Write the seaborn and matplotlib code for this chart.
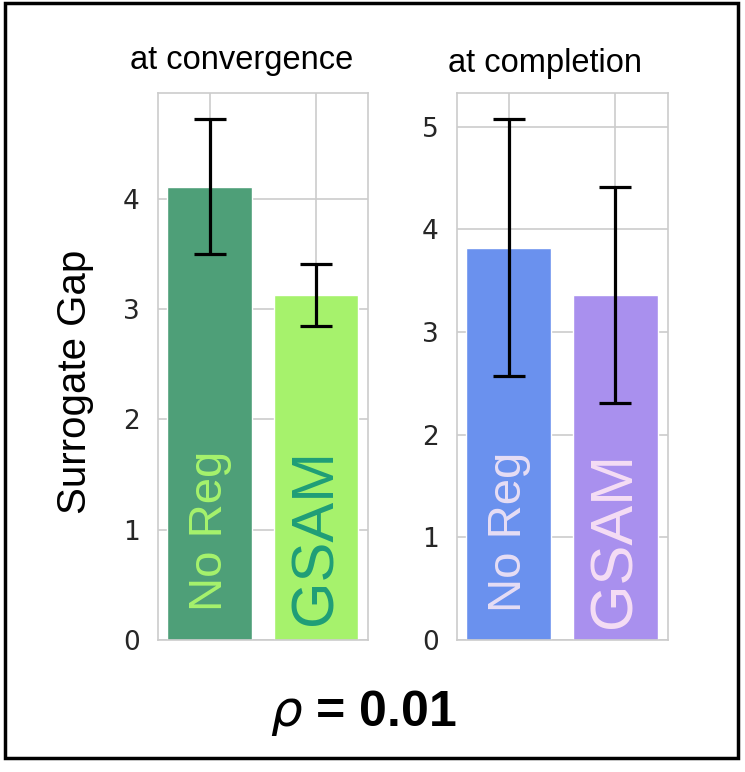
import matplotlib
matplotlib.use("Agg")
import matplotlib.pyplot as plt
import seaborn as sns
from matplotlib.patches import Rectangle

methods = ["No Reg", "GSAM"]

conv_means = [4.11, 3.13]
conv_errs = [0.61, 0.28]
comp_means = [3.82, 3.36]
comp_errs = [1.25, 1.05]

conv_colors = ["#4E9F78", "#A6F26C"]
conv_text_colors = ["#A6F26C", "#1F9E78"]
comp_colors = ["#6A91EE", "#A990EE"]
comp_text_colors = ["#E6DDF5", "#F5DDF5"]

titles = ["at convergence", "at completion"]


def draw_panel(ax, means, errs, colors, text_colors, title, label_y, label_sizes,
               title_xy):
    sns.barplot(x=methods, y=means, hue=methods, palette=colors, legend=False,
                errorbar=None, saturation=1, width=0.8, ax=ax)
    ax.errorbar(range(len(methods)), means, yerr=errs, fmt="none",
                ecolor="black", elinewidth=2.3, capsize=11.5, capthick=2.3)
    ax.set_xticks(range(len(methods)))
    ax.set_xticklabels(["", ""])
    ax.tick_params(axis="x", length=0)
    for sp in ax.spines.values():
        sp.set_color("#cccccc")
        sp.set_linewidth(1.2)
    ax.grid(True, color="#cccccc", linewidth=1.2)
    for i, name in enumerate(methods):
        ax.text(i, label_y[i], name, rotation=90, ha="center", va="bottom",
                color=text_colors[i], fontsize=label_sizes[i],
                family="Liberation Sans")
    ax.text(title_xy[0], title_xy[1], title, transform=ax.transAxes,
            ha="center", va="center", fontsize=23.5, color="black",
            family="Liberation Sans")


def main():
    sns.set_theme(style="whitegrid")
    plt.rcParams["font.family"] = ["DejaVu Sans"]
    plt.rcParams["ytick.labelsize"] = 19
    plt.rcParams["ytick.color"] = "#262626"
    plt.rcParams["ytick.labelcolor"] = "#262626"
    plt.rcParams["ytick.major.pad"] = 7
    fig = plt.figure(figsize=(7.45, 7.72), dpi=100)
    ax1 = fig.add_axes([0.212, 0.171, 0.282, 0.708])
    ax2 = fig.add_axes([0.613, 0.171, 0.283, 0.708])

    draw_panel(ax1, conv_means, conv_errs, conv_colors, conv_text_colors,
               titles[0], [0.26, 0.14], [34, 43], (0.40, 1.06))
    draw_panel(ax2, comp_means, comp_errs, comp_colors, comp_text_colors,
               titles[1], [0.27, 0.12], [34, 43], (0.42, 1.055))

    fig.text(0.10, 0.505, "Surrogate Gap", rotation=90, ha="center",
             va="center", fontsize=29, color="black", family="Liberation Sans")
    fig.text(0.487, 0.076, r"$\rho$ = 0.01", ha="center",
             va="center", fontsize=36, fontweight="bold", color="black",
             family="Liberation Sans")

    fig.patches.append(Rectangle((0.007, 0.018), 0.984, 0.978,
                                 transform=fig.transFigure, fill=False,
                                 edgecolor="black", linewidth=2.5))
    fig.savefig("out.png", dpi=100)


if __name__ == "__main__":
    main()
